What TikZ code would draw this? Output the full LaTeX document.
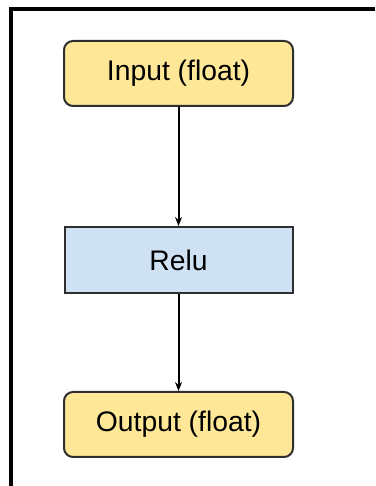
\documentclass[tikz,border=0pt]{standalone}
\usepackage{fontspec}
\setmainfont{Liberation Sans}
\usetikzlibrary{arrows.meta}
\definecolor{iofill}{HTML}{FFE798}
\definecolor{opfill}{HTML}{CFE2F3}
\definecolor{edge}{HTML}{2E2E2E}
\tikzset{
  x=1pt, y=1pt,
  tensor/.style={draw=edge, line width=2pt, fill=iofill, rounded corners=9pt,
    minimum width=229pt, minimum height=65pt, inner sep=0pt,
    font=\fontsize{28.3}{30}\selectfont},
  opbox/.style={draw=edge, line width=2pt, fill=opfill,
    minimum width=228pt, minimum height=66pt, inner sep=0pt,
    font=\fontsize{28.3}{30}\selectfont},
  flow/.style={line width=2pt, draw=black, -{Stealth[length=9pt,width=7pt]}}
}
\begin{document}
\begin{tikzpicture}
  \useasboundingbox (0,0) rectangle (375,486);
  % frame (left and top edges)
  \draw[line width=3.2pt] (11,0) -- (11,477) -- (375,477);
  % nodes
  \node[tensor] (in)  at (178.5,412.5) {Input (float)};
  \node[opbox]  (relu) at (178.5,226)  {Relu};
  \node[tensor] (out) at (178.5,61.5)  {Output (float)};
  % connectors
  \draw[flow] (in) -- (relu);
  \draw[flow] (relu) -- (out);
\end{tikzpicture}
\end{document}
